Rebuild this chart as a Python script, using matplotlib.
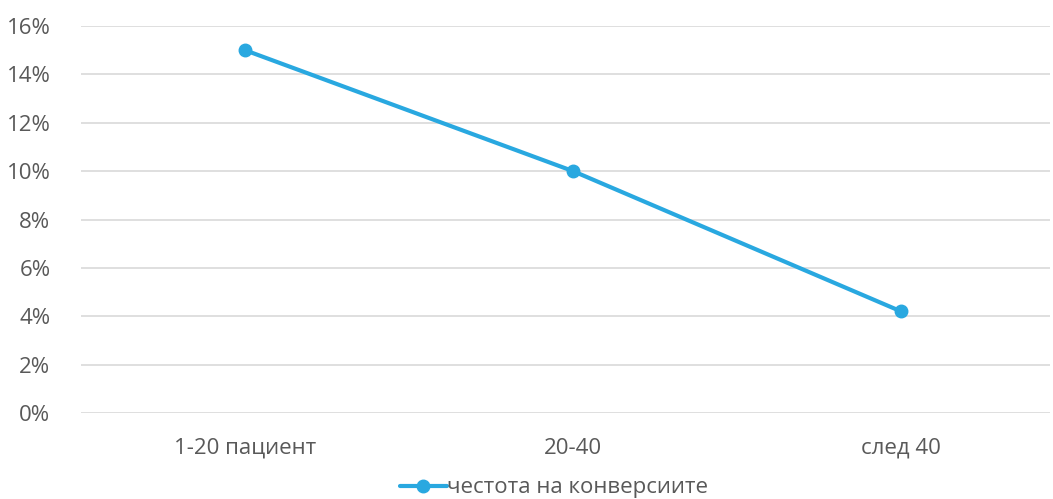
import matplotlib.pyplot as plt
from matplotlib.ticker import FuncFormatter

plt.rcParams["font.family"] = ["Open Sans", "DejaVu Sans"]

# данни
categories = ["1-20 пациент", "20-40", "след 40"]
conversion_rate = [15.0, 10.0, 4.2]
series_name = "честота на конверсиите"

fig = plt.figure(figsize=(10.53, 4.99), dpi=100)
ax = fig.add_axes([81 / 1053, 1 - 413 / 499, (1050 - 81) / 1053, (413 - 26) / 499])

x = list(range(len(categories)))
ax.plot(x, conversion_rate, color="#29A8E0", linewidth=3.0, marker="o",
        markersize=9, label=series_name, solid_capstyle="round", zorder=3)

ax.set_ylim(0, 16)
ax.set_yticks(range(0, 17, 2))
ax.yaxis.set_major_formatter(FuncFormatter(lambda v, p: f"{int(v)}%"))
ax.set_xlim(-0.5, 2.454)
ax.set_xticks(x)
ax.set_xticklabels(categories)

ax.grid(axis="y", color="#D9D9D9", linewidth=1.2)
ax.set_axisbelow(True)
for s in ax.spines.values():
    s.set_visible(False)
ax.tick_params(length=0, labelsize=16, labelcolor="#595959")
ax.tick_params(axis="y", pad=22)
ax.tick_params(axis="x", pad=18)

fig.legend(loc="center", bbox_to_anchor=(0.526, 1 - 488 / 499), frameon=False,
           fontsize=16, labelcolor="#595959", handlelength=2.1,
           handletextpad=0.0, borderaxespad=0)

fig.savefig("out.png", dpi=100)
